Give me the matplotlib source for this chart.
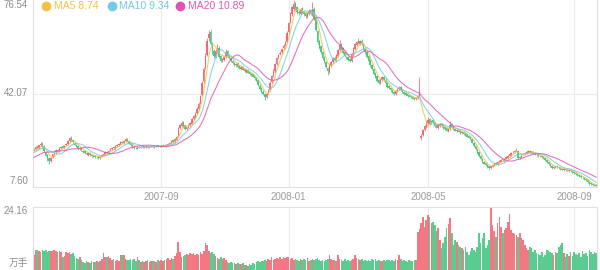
import matplotlib
matplotlib.use('Agg')
import matplotlib.pyplot as plt
from matplotlib.lines import Line2D
import numpy as np
import pandas as pd

plt.rcParams['font.family'] = ['Liberation Sans', 'Noto Sans CJK SC', 'DejaVu Sans']

# ---------------- data ----------------
tick_idx = [75, 150, 232, 318]
tick_labels = ['2007-09', '2008-01', '2008-05', '2008-09']

ma_names = ['MA5', 'MA10', 'MA20']
ma_windows = [5, 10, 20]
ma_legend_values = [8.74, 9.34, 10.89]
volume_unit = '万手'

# closes of the 19 sessions before the visible window (feed the moving averages only)
prior_closes = [15.8, 16.2, 16.0, 16.5, 16.9, 16.6, 17.2, 17.5, 17.1, 17.8,
                18.4, 18.9, 19.5, 19.9, 20.4, 20.8, 21.0, 21.3, 21.1]

closes = [
    21.5, 22.3, 21.8, 22.9, 23.6, 22.4, 20.8, 19.2, 18.1, 17.3,
    18.4, 19.6, 20.3, 21.1, 20.7, 21.9, 22.4, 22.0, 22.8, 23.4,
    24.6, 25.6, 25.0, 24.1, 23.2, 22.5, 21.6, 22.0, 21.2, 20.6,
    20.1, 19.6, 20.2, 19.3, 18.9, 19.1, 18.6, 18.8, 18.4, 18.7,
    19.3, 19.8, 20.5, 20.1, 21.0, 21.6, 22.1, 21.8, 22.6, 23.2,
    23.6, 24.1, 23.8, 24.6, 25.2, 24.5, 23.6, 22.9, 22.4, 22.0,
    21.8, 22.3, 22.1, 22.5, 22.2, 22.4, 22.6, 22.3, 22.5, 22.7,
    22.4, 22.6, 22.8, 22.5, 22.7, 22.9, 23.0, 22.8, 23.2, 23.6,
    24.0, 24.6, 24.3, 25.2, 26.0, 29.5, 30.4, 31.2, 30.1, 29.0,
    29.6, 30.4, 31.3, 32.5, 33.6, 34.8, 36.5, 38.3, 41.0, 46.0,
    51.0, 56.0, 61.5, 64.0, 60.5, 57.5, 56.0, 57.8, 58.5, 55.5,
    54.2, 54.8, 55.6, 57.5, 56.0, 55.2, 54.0, 53.2, 52.6, 53.0,
    52.0, 51.4, 51.8, 50.9, 50.2, 50.6, 49.8, 49.2, 49.0, 48.3,
    47.6, 46.8, 45.2, 43.8, 42.6, 41.9, 40.8, 42.0, 43.5, 46.0,
    48.6, 50.5, 52.8, 55.0, 56.2, 57.0, 58.4, 59.6, 61.0, 64.5,
    68.0, 71.5, 73.8, 75.0, 73.5, 72.0, 71.6, 73.0, 72.4, 71.2,
    70.5, 71.8, 72.5, 71.4, 73.0, 69.5, 65.5, 61.0, 59.0, 57.2,
    55.0, 53.6, 51.8, 50.2, 52.4, 53.8, 55.0, 54.6, 56.2, 58.0,
    60.0, 58.6, 57.0, 55.8, 55.2, 54.6, 54.2, 56.5, 58.8, 60.2,
    61.0, 60.6, 61.4, 60.2, 58.4, 57.2, 55.6, 54.0, 52.4, 51.0,
    49.4, 48.2, 46.8, 46.0, 47.2, 48.0, 47.0, 45.8, 44.6, 44.0,
    43.2, 42.6, 42.0, 43.0, 43.8, 44.2, 43.4, 42.5, 42.0, 41.6,
    41.2, 41.0, 40.6, 40.2, 40.0, 40.5, 41.0, 43.0, 26.5, 28.6,
    30.0, 31.5, 32.4, 31.0, 32.0, 31.2, 30.2, 29.6, 30.4, 30.8,
    30.2, 29.4, 29.0, 28.4, 28.8, 30.6, 29.8, 28.9, 28.4, 28.6,
    28.0, 27.6, 27.9, 27.2, 26.8, 26.2, 25.8, 25.2, 24.0, 22.6,
    21.5, 20.2, 19.0, 17.8, 16.8, 16.2, 15.6, 15.0, 14.6, 15.2,
    15.8, 16.4, 16.2, 16.8, 17.2, 17.6, 17.4, 18.0, 18.6, 19.0,
    19.6, 20.2, 20.6, 21.0, 21.4, 18.4, 18.8, 19.4, 19.8, 20.2,
    20.4, 20.8, 20.6, 20.3, 20.0, 19.6, 19.4, 19.1, 18.9, 18.6,
    18.4, 17.6, 16.8, 15.9, 15.2, 14.6, 14.9, 15.2, 14.8, 14.5,
    14.2, 14.0, 14.3, 13.9, 13.7, 13.8, 13.4, 13.1, 12.8, 12.4,
    12.0, 11.6, 11.2, 10.9, 10.4, 10.0, 9.4, 8.8, 8.6, 8.4,
    8.2, 7.9]

opens = [
    21.0, 21.6, 22.5, 21.9, 23.0, 23.8, 22.6, 20.5, 19.4, 18.3,
    17.2, 18.5, 19.8, 20.6, 21.4, 20.9, 22.0, 22.6, 21.9, 23.0,
    23.3, 24.4, 25.8, 25.1, 24.0, 23.0, 22.7, 21.5, 22.1, 21.0,
    20.8, 20.2, 19.5, 20.3, 19.4, 18.8, 19.2, 18.5, 18.9, 18.3,
    18.8, 19.2, 19.9, 20.6, 20.0, 21.2, 21.5, 22.3, 21.7, 22.7,
    23.0, 23.5, 24.3, 23.7, 24.5, 25.3, 24.6, 23.7, 23.0, 22.5,
    22.1, 21.7, 22.4, 22.0, 22.6, 22.1, 22.3, 22.7, 22.2, 22.4,
    22.8, 22.3, 22.5, 22.9, 22.4, 22.6, 22.8, 23.1, 22.7, 23.1,
    23.5, 23.9, 24.8, 24.2, 25.1, 26.4, 29.2, 30.2, 31.4, 30.3,
    28.8, 29.7, 30.5, 31.0, 32.6, 33.4, 35.0, 36.4, 38.6, 41.5,
    46.5, 51.8, 56.4, 62.5, 64.8, 60.2, 57.8, 55.6, 58.2, 58.9,
    55.8, 54.0, 54.6, 55.4, 57.8, 56.3, 55.0, 54.2, 53.4, 52.4,
    53.2, 52.3, 51.2, 51.9, 51.0, 50.0, 50.8, 49.9, 49.4, 49.1,
    48.4, 47.8, 46.9, 45.0, 44.2, 42.8, 42.0, 40.9, 42.2, 43.4,
    46.2, 48.8, 50.2, 53.0, 55.4, 56.6, 57.2, 58.8, 59.8, 61.2,
    64.8, 68.4, 71.2, 73.2, 75.4, 73.8, 72.3, 71.4, 73.5, 72.6,
    71.6, 70.3, 71.5, 72.8, 71.0, 73.4, 69.8, 65.2, 61.4, 59.5,
    57.5, 55.4, 53.8, 51.6, 50.0, 52.2, 53.6, 55.3, 54.2, 56.0,
    58.2, 60.4, 58.8, 57.4, 55.6, 55.4, 54.8, 54.0, 56.3, 58.6,
    60.0, 61.3, 60.4, 61.6, 60.4, 58.6, 57.5, 55.8, 54.3, 52.6,
    51.2, 49.7, 48.4, 47.0, 45.8, 47.0, 48.2, 47.2, 45.9, 44.8,
    44.2, 43.4, 42.8, 41.8, 42.9, 43.6, 44.4, 43.6, 42.7, 42.2,
    41.8, 41.4, 41.2, 40.8, 40.4, 39.9, 40.4, 41.2, 25.6, 26.8,
    28.5, 29.8, 31.2, 32.6, 31.1, 32.2, 31.4, 30.4, 29.5, 30.2,
    30.9, 30.4, 29.6, 29.2, 28.3, 28.9, 30.8, 30.0, 29.0, 28.2,
    28.7, 28.2, 27.4, 28.0, 27.4, 27.0, 26.4, 26.0, 25.3, 24.0,
    22.8, 21.6, 20.4, 19.2, 18.0, 16.9, 16.4, 15.8, 15.2, 14.5,
    15.0, 15.7, 16.6, 16.0, 16.7, 17.0, 17.8, 17.3, 18.1, 18.4,
    18.9, 19.4, 20.4, 20.5, 21.2, 21.0, 18.2, 18.7, 19.6, 19.7,
    20.1, 20.3, 21.0, 20.7, 20.4, 20.2, 19.5, 19.6, 19.2, 19.0,
    18.8, 18.3, 17.5, 16.8, 16.0, 15.4, 14.5, 14.8, 15.3, 14.9,
    14.6, 14.3, 13.9, 14.4, 14.0, 13.6, 13.9, 13.5, 13.2, 12.9,
    12.5, 12.1, 11.7, 11.0, 11.1, 10.5, 10.1, 9.5, 8.9, 8.6,
    8.5, 8.3]

highs = [
    21.8, 22.6, 22.9, 23.2, 24.3, 24.1, 22.9, 20.8, 19.7, 18.6,
    18.7, 19.9, 20.6, 21.5, 21.7, 22.2, 22.8, 22.9, 23.1, 23.8,
    24.9, 26.0, 26.3, 25.4, 24.3, 23.3, 22.9, 22.3, 22.4, 21.3,
    21.1, 20.5, 20.5, 20.6, 19.7, 19.4, 19.5, 19.0, 19.2, 18.9,
    19.6, 20.1, 20.8, 20.9, 21.3, 21.9, 22.4, 22.6, 22.9, 23.5,
    23.9, 24.4, 24.6, 24.9, 25.7, 25.6, 24.9, 24.0, 23.3, 22.8,
    22.4, 22.6, 22.7, 22.8, 22.9, 22.7, 22.9, 23.0, 22.8, 23.0,
    23.1, 22.9, 23.1, 23.2, 23.0, 23.2, 23.3, 23.4, 23.5, 23.9,
    24.3, 24.9, 25.1, 25.5, 26.4, 29.8, 31.0, 31.9, 31.8, 30.6,
    29.9, 30.8, 31.7, 32.9, 34.1, 35.2, 37.0, 38.8, 41.6, 46.8,
    51.8, 56.9, 62.4, 65.5, 66.0, 61.0, 58.6, 58.4, 60.2, 59.5,
    56.3, 55.3, 56.0, 58.6, 58.2, 56.6, 55.4, 54.6, 53.8, 53.4,
    53.5, 52.6, 52.2, 52.2, 51.3, 51.0, 51.1, 50.2, 49.7, 49.4,
    48.7, 48.1, 47.2, 45.4, 44.5, 43.2, 42.3, 42.4, 43.9, 46.5,
    49.0, 51.1, 53.3, 55.6, 56.8, 57.6, 58.9, 60.2, 61.6, 65.0,
    68.6, 72.2, 74.5, 76.54, 75.9, 74.3, 72.8, 73.6, 74.0, 73.0,
    72.0, 72.3, 73.1, 73.3, 75.8, 73.8, 70.2, 65.6, 61.8, 59.9,
    57.9, 55.8, 54.2, 52.0, 52.8, 54.2, 55.4, 55.8, 56.6, 58.5,
    61.8, 60.8, 59.2, 57.8, 56.0, 55.8, 55.2, 56.9, 59.3, 60.8,
    61.6, 62.4, 61.9, 62.0, 60.8, 59.0, 57.9, 56.2, 54.7, 53.0,
    51.6, 50.0, 48.8, 47.4, 47.6, 48.6, 48.7, 47.6, 46.2, 45.2,
    44.6, 43.8, 43.1, 43.4, 44.2, 44.8, 44.7, 43.9, 43.0, 42.5,
    42.1, 41.7, 41.5, 41.1, 40.7, 40.8, 41.4, 48.0, 27.2, 29.0,
    30.4, 31.9, 33.4, 32.9, 32.4, 32.6, 31.7, 30.8, 30.7, 31.2,
    31.2, 30.7, 29.9, 29.5, 29.1, 31.8, 31.1, 30.3, 29.3, 28.9,
    29.0, 28.5, 28.2, 28.3, 27.7, 27.3, 26.7, 26.3, 25.6, 24.3,
    23.1, 21.9, 20.7, 19.5, 18.3, 17.2, 16.7, 16.1, 15.5, 15.5,
    16.1, 16.7, 16.9, 17.1, 17.5, 17.9, 18.1, 18.3, 18.9, 19.3,
    19.9, 20.5, 20.9, 21.4, 21.8, 21.2, 19.1, 19.7, 20.1, 20.5,
    20.7, 21.1, 21.3, 21.0, 20.7, 20.5, 19.8, 19.9, 19.5, 19.3,
    19.1, 18.6, 17.8, 17.1, 16.3, 15.7, 15.2, 15.5, 15.6, 15.2,
    14.9, 14.6, 14.6, 14.7, 14.3, 14.1, 14.2, 13.8, 13.5, 13.2,
    12.8, 12.4, 12.0, 11.4, 11.4, 10.8, 10.4, 9.8, 9.2, 8.9,
    8.8, 8.6]

lows = [
    20.7, 21.3, 21.5, 21.6, 22.7, 22.1, 20.5, 18.9, 17.2, 15.9,
    16.9, 18.2, 19.5, 20.3, 20.4, 20.6, 21.7, 21.8, 21.6, 22.7,
    23.0, 24.1, 24.7, 23.8, 22.9, 22.2, 21.3, 21.2, 20.9, 20.3,
    19.8, 19.3, 19.2, 19.0, 18.6, 18.5, 18.3, 18.2, 18.1, 18.0,
    18.5, 18.9, 19.6, 19.8, 19.8, 20.9, 21.2, 21.5, 21.4, 22.4,
    22.7, 23.2, 23.5, 23.4, 24.2, 24.2, 23.3, 22.6, 22.1, 21.7,
    21.5, 21.5, 21.8, 21.8, 22.0, 21.9, 22.1, 22.0, 22.0, 22.2,
    22.2, 22.1, 22.3, 22.3, 22.2, 22.4, 22.6, 22.6, 22.5, 22.9,
    23.3, 23.7, 24.0, 24.0, 24.9, 26.1, 28.8, 29.8, 29.8, 28.6,
    28.5, 29.3, 30.2, 30.7, 32.2, 33.0, 34.6, 36.0, 38.1, 41.1,
    46.0, 51.2, 55.8, 61.4, 59.8, 56.8, 55.2, 55.0, 57.4, 55.0,
    53.7, 53.6, 54.2, 55.0, 55.6, 54.8, 53.6, 52.8, 52.3, 52.0,
    51.6, 51.1, 50.9, 50.6, 49.9, 49.7, 49.5, 48.9, 48.6, 48.0,
    47.2, 46.5, 44.9, 43.4, 42.2, 41.5, 39.8, 40.5, 41.9, 43.1,
    45.8, 48.3, 49.8, 52.6, 54.9, 56.1, 56.8, 58.2, 59.4, 60.8,
    64.4, 67.9, 70.8, 72.6, 73.0, 71.5, 71.0, 71.0, 71.9, 70.8,
    70.0, 69.8, 71.1, 71.0, 70.6, 69.0, 65.0, 60.5, 58.5, 56.7,
    54.6, 53.2, 51.4, 49.0, 49.6, 51.8, 53.2, 54.1, 53.8, 55.6,
    57.8, 58.2, 56.6, 55.4, 54.8, 54.2, 53.6, 53.7, 55.9, 58.2,
    59.6, 60.2, 60.0, 59.8, 58.0, 56.8, 55.2, 53.6, 52.0, 50.6,
    49.0, 47.8, 46.4, 45.6, 45.4, 46.6, 46.6, 45.4, 44.2, 43.6,
    42.8, 42.3, 41.6, 41.4, 42.6, 43.2, 43.0, 42.2, 41.6, 41.2,
    40.9, 40.7, 40.3, 39.9, 39.6, 39.6, 40.1, 40.9, 25.0, 26.4,
    28.2, 29.5, 30.9, 30.6, 30.8, 30.9, 29.9, 29.2, 29.1, 29.9,
    29.9, 29.1, 28.7, 28.1, 28.0, 28.6, 29.5, 28.6, 28.1, 27.9,
    27.7, 27.3, 27.1, 26.9, 26.5, 25.9, 25.5, 24.9, 23.7, 22.3,
    21.2, 19.9, 18.7, 17.5, 16.5, 15.9, 15.3, 14.7, 13.8, 14.2,
    14.8, 15.4, 15.9, 15.8, 16.4, 16.8, 17.1, 17.0, 17.8, 18.1,
    18.6, 19.1, 20.1, 20.2, 20.9, 18.1, 17.9, 18.4, 19.3, 19.4,
    19.8, 20.0, 20.3, 20.0, 19.7, 19.3, 19.1, 18.8, 18.6, 18.3,
    18.1, 17.3, 16.5, 15.6, 14.9, 14.3, 14.2, 14.5, 14.5, 14.2,
    13.9, 13.7, 13.6, 13.6, 13.4, 13.3, 13.1, 12.8, 12.5, 12.1,
    11.7, 11.3, 10.9, 10.6, 10.1, 9.7, 9.1, 8.5, 8.3, 8.1,
    7.9, 7.60]

volumes = [
    5.8, 7.7, 7.7, 7.2, 6.8, 7.5, 7.3, 7.6, 7.0, 7.4,
    7.3, 7.1, 7.5, 7.2, 6.9, 7.3, 6.9, 5.0, 5.4, 6.9,
    6.5, 6.8, 6.2, 6.6, 5.2, 4.6, 4.2, 4.8, 3.8, 3.2,
    2.8, 3.4, 3.0, 2.7, 3.3, 3.0, 2.9, 3.4, 3.1, 3.6,
    4.4, 6.5, 5.0, 4.8, 5.2, 4.6, 3.8, 4.2, 3.4, 3.9,
    3.6, 5.8, 5.6, 5.9, 4.2, 4.0, 3.7, 4.4, 3.9, 4.1,
    3.5, 5.0, 3.8, 3.2, 3.6, 3.0, 3.4, 3.8, 3.1, 3.4,
    3.3, 3.6, 3.1, 3.8, 3.4, 3.9, 3.6, 3.8, 4.2, 4.6,
    4.0, 4.6, 4.3, 5.2, 6.5, 10.7, 7.0, 5.0, 5.4, 5.8,
    6.0, 5.6, 6.5, 6.2, 6.6, 5.9, 6.2, 5.6, 6.8, 6.3,
    7.4, 10.4, 9.6, 7.2, 6.5, 6.8, 6.2, 5.4, 4.6, 4.2,
    4.8, 4.4, 4.6, 4.0, 3.2, 2.8, 3.0, 2.5, 2.6, 2.3,
    2.8, 2.4, 2.2, 2.7, 1.8, 2.0, 1.6, 2.3, 1.9, 2.5,
    2.2, 3.0, 3.4, 3.2, 3.6, 3.3, 3.8, 3.5, 4.2, 3.9,
    5.0, 3.8, 4.2, 4.6, 4.3, 4.8, 4.4, 5.0, 4.6, 4.8,
    5.0, 4.4, 4.6, 3.8, 4.2, 4.0, 3.6, 4.1, 3.7, 4.2,
    3.8, 4.5, 3.6, 4.0, 4.4, 3.9, 4.2, 4.6, 3.8, 3.5,
    4.0, 3.6, 3.9, 4.3, 5.8, 4.2, 3.8, 4.0, 3.4, 5.8,
    4.4, 3.9, 3.6, 4.1, 3.5, 3.8, 3.3, 4.0, 4.4, 5.8,
    4.6, 4.2, 3.8, 4.4, 3.6, 4.0, 3.4, 3.9, 3.6, 4.2,
    3.8, 4.1, 3.5, 4.0, 3.6, 3.3, 3.8, 3.5, 4.0, 3.7,
    3.4, 3.9, 3.6, 4.2, 4.0, 5.8, 4.1, 3.6, 3.8, 3.4,
    3.2, 3.8, 3.5, 3.3, 4.0, 3.7, 14.6, 15.8, 18.0, 20.3,
    16.5, 19.2, 21.0, 20.3, 18.0, 18.4, 17.3, 14.8, 16.1, 11.5,
    8.4, 10.4, 12.7, 16.1, 17.6, 19.9, 14.2, 9.6, 11.5, 10.7,
    9.6, 9.0, 8.4, 7.7, 8.8, 6.9, 5.8, 7.2, 8.4, 7.7,
    6.9, 8.8, 14.2, 10.4, 12.2, 14.2, 8.4, 9.6, 11.5, 24.16,
    17.3, 15.0, 12.7, 18.0, 20.3, 16.5, 14.2, 15.2, 16.1, 18.4,
    21.5, 15.3, 14.2, 13.8, 13.4, 12.7, 14.2, 12.3, 11.5, 9.6,
    8.4, 7.7, 8.8, 8.4, 6.9, 7.7, 6.5, 6.2, 5.8, 6.9,
    5.0, 5.8, 7.7, 7.2, 6.9, 6.5, 5.8, 6.9, 6.5, 8.8,
    9.4, 10.4, 6.5, 5.0, 6.2, 5.5, 6.8, 5.2, 7.0, 6.1,
    5.6, 6.4, 5.0, 7.2, 6.0, 6.6, 5.4, 7.7, 6.9, 6.2,
    7.0, 6.6]

# ---------------- style ----------------
UP = '#f0606e'
DOWN = '#3ec47c'
MA_COLORS = ['#f5c045', '#72c9e6', '#e054b4']
GRID = '#ececec'
SPINE = '#e0e0e0'
TXT = '#8c8c8c'

n = min(len(opens), len(highs), len(lows), len(closes), len(volumes))
o = np.array(opens[:n]); h = np.array(highs[:n]); l = np.array(lows[:n])
c = np.array(closes[:n]); v = np.array(volumes[:n])
idx = np.arange(n)
col = np.where(c >= o, UP, DOWN)

W_PX, H_PX = 600, 270
fig = plt.figure(figsize=(W_PX / 100, H_PX / 100), dpi=100)
left, width = 33 / W_PX, 564 / W_PX
axp = fig.add_axes([left, (H_PX - 187) / H_PX, width, 187 / H_PX])
axv = fig.add_axes([left, 0, width, 63 / H_PX])

pmax, pmin = h.max(), l.min()
pmid = (pmax + pmin) / 2
vmax = v.max()

for ax in (axp, axv):
    ax.set_xlim(-0.5, n - 0.5)
    ax.set_facecolor('white')
    for t in tick_idx:
        ax.axvline(t, color=GRID, lw=0.8, zorder=0)
    ax.set_yticks([])
    for s in ax.spines.values():
        s.set_color(SPINE)
        s.set_linewidth(0.8)

axp.spines['top'].set_visible(False)
axv.spines['bottom'].set_visible(False)

# price panel
axp.axhline(pmid, color=GRID, lw=0.8, zorder=0)
axp.vlines(idx, l, h, colors=col, lw=0.6, alpha=0.9, zorder=2)
body_bottom = np.minimum(o, c)
body_h = np.maximum(np.abs(c - o), 0.15)
axp.bar(idx, body_h, bottom=body_bottom, width=0.85, color=col, lw=0, alpha=0.9, zorder=2)
full = pd.Series(list(prior_closes) + list(c))
k = len(prior_closes)
for name, w, colr in zip(ma_names, ma_windows, MA_COLORS):
    ma = full.rolling(w, min_periods=1).mean().to_numpy()[k:]
    axp.plot(idx, ma, color=colr, lw=0.75, alpha=0.85, zorder=3)
axp.set_ylim(pmin, pmax)
axp.set_xticks(tick_idx)
axp.set_xticklabels(tick_labels)
axp.tick_params(axis='x', length=0, pad=3.5, labelsize=7, labelcolor='#9a9a9a')

# volume panel
axv.bar(idx, v, width=0.95, color=col, lw=0, alpha=0.85, zorder=2)
axv.set_ylim(0, vmax)
axv.set_xticks([])

# y labels
lx = 28 / W_PX
fig.text(lx, 1 - 0.5 / H_PX, f'{pmax:.2f}', ha='right', va='top', fontsize=7, color=TXT)
fig.text(lx, 1 - 93 / H_PX, f'{pmid:.2f}', ha='right', va='center', fontsize=7, color=TXT)
fig.text(lx, 1 - 186 / H_PX, f'{pmin:.2f}', ha='right', va='bottom', fontsize=7, color=TXT)
fig.text(lx, 1 - 206 / H_PX, f'{vmax:.2f}', ha='right', va='top', fontsize=7, color=TXT)
fig.text(lx, 2 / H_PX, volume_unit, ha='right', va='bottom', fontsize=7, color=TXT)

# legend
leg_dot_x = [46, 112, 180]
leg_txt_x = [54, 119, 188]
ly = 1 - 6 / H_PX
for name, val, colr, dx, tx in zip(ma_names, ma_legend_values, MA_COLORS, leg_dot_x, leg_txt_x):
    fig.add_artist(Line2D([dx / W_PX], [ly], marker='o', ms=6, color=colr, mec=colr, lw=0,
                          transform=fig.transFigure))
    fig.text(tx / W_PX, ly, f'{name} {val:.2f}', ha='left', va='center', fontsize=7.5, color=colr)

fig.savefig('out.png', dpi=100, facecolor='white')
